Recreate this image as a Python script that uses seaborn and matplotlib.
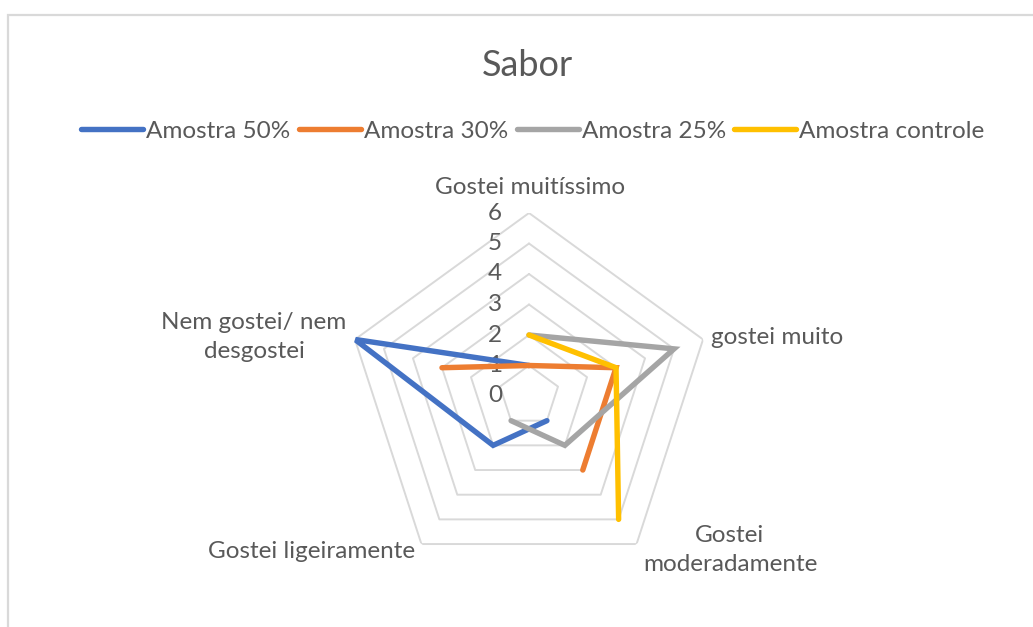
import numpy as np
import matplotlib
matplotlib.use("Agg")
import matplotlib.pyplot as plt
import matplotlib.transforms as mtransforms
from matplotlib.patches import Rectangle
import seaborn as sns

# ---- data ----
categories = ["Gostei muitíssimo", "gostei muito", "Gostei\nmoderadamente",
              "Gostei ligeiramente", "Nem gostei/ nem\ndesgostei"]
series_names = ["Amostra 50%", "Amostra 30%", "Amostra 25%", "Amostra controle"]
amostra_50 = [1, np.nan, 1, 2, 6]
amostra_30 = [1, 3, 3, np.nan, 3]
amostra_25 = [2, 5, 2, 1, np.nan]
amostra_controle = [2, 3, 5, np.nan, np.nan]
radial_ticks = [0, 1, 2, 3, 4, 5, 6]
colors = ["#4472C4", "#ED7D31", "#A5A5A5", "#FFC000"]

sns.set_theme(style="white")
FONT = ["Lato", "DejaVu Sans"]
plt.rcParams["font.family"] = FONT
TXT = "#595959"
FS = 17.5

W, H = 1033, 627
fig = plt.figure(figsize=(W / 100, H / 100), dpi=100)

# border of chart area
fig.patches.append(Rectangle((8 / W, -0.1), 1.2, 1 - 15 / H + 0.1, transform=fig.transFigure,
                             fill=False, edgecolor="#d9d9d9", lw=1.6))

cx, cy, R = 529, 396, 183
ax = fig.add_axes([(cx - R) / W, (H - cy - R) / H, 2 * R / W, 2 * R / H], projection="polar")
ax.set_theta_zero_location("N")
ax.set_theta_direction(-1)
ax.set_ylim(0, radial_ticks[-1])
ax.grid(False)
ax.spines["polar"].set_visible(False)
ax.set_xticks([])
ax.set_yticks([])
ax.patch.set_alpha(0)

n = len(categories)
angles = np.linspace(0, 2 * np.pi, n, endpoint=False)
ang_c = np.append(angles, angles[0])

# pentagon grid
for r in radial_ticks[1:]:
    ax.plot(ang_c, [r] * (n + 1), color="#d9d9d9", lw=1.4, zorder=1)

# radial tick labels
off = mtransforms.offset_copy(ax.transData, fig=fig, x=-34, y=0, units="dots")
for r in radial_ticks:
    ax.text(0, r, str(r), transform=off, ha="center", va="center",
            fontsize=FS, color=TXT, zorder=2)

# series
for name, vals, c in zip(series_names, [amostra_50, amostra_30, amostra_25, amostra_controle], colors):
    v = np.append(vals, vals[0])
    ax.plot(ang_c, v, color=c, lw=3.9, label=name, zorder=3,
            solid_joinstyle="miter", solid_capstyle="round")

# category labels
label_pos = [(530, 188, "center"), (711, 337, "left"), (730, 550, "center"),
             (312, 551, "center"), (254, 337, "center")]
for text, (x, y, ha) in zip(categories, label_pos):
    fig.text(x / W, 1 - y / H, text, ha=ha, va="center", fontsize=FS,
             color=TXT, linespacing=1.5)

fig.text(527 / W, 1 - 65 / H, "Sabor", ha="center", va="center", fontsize=26, color=TXT)

handles, labels = ax.get_legend_handles_labels()
leg = fig.legend(handles, labels, loc="center", bbox_to_anchor=(533 / W, 1 - 131 / H),
                 ncol=4, frameon=False, fontsize=FS, handlelength=2.55,
                 handletextpad=0.12, columnspacing=0.35, labelcolor=TXT)

fig.savefig("out.png", dpi=100, facecolor="white")
